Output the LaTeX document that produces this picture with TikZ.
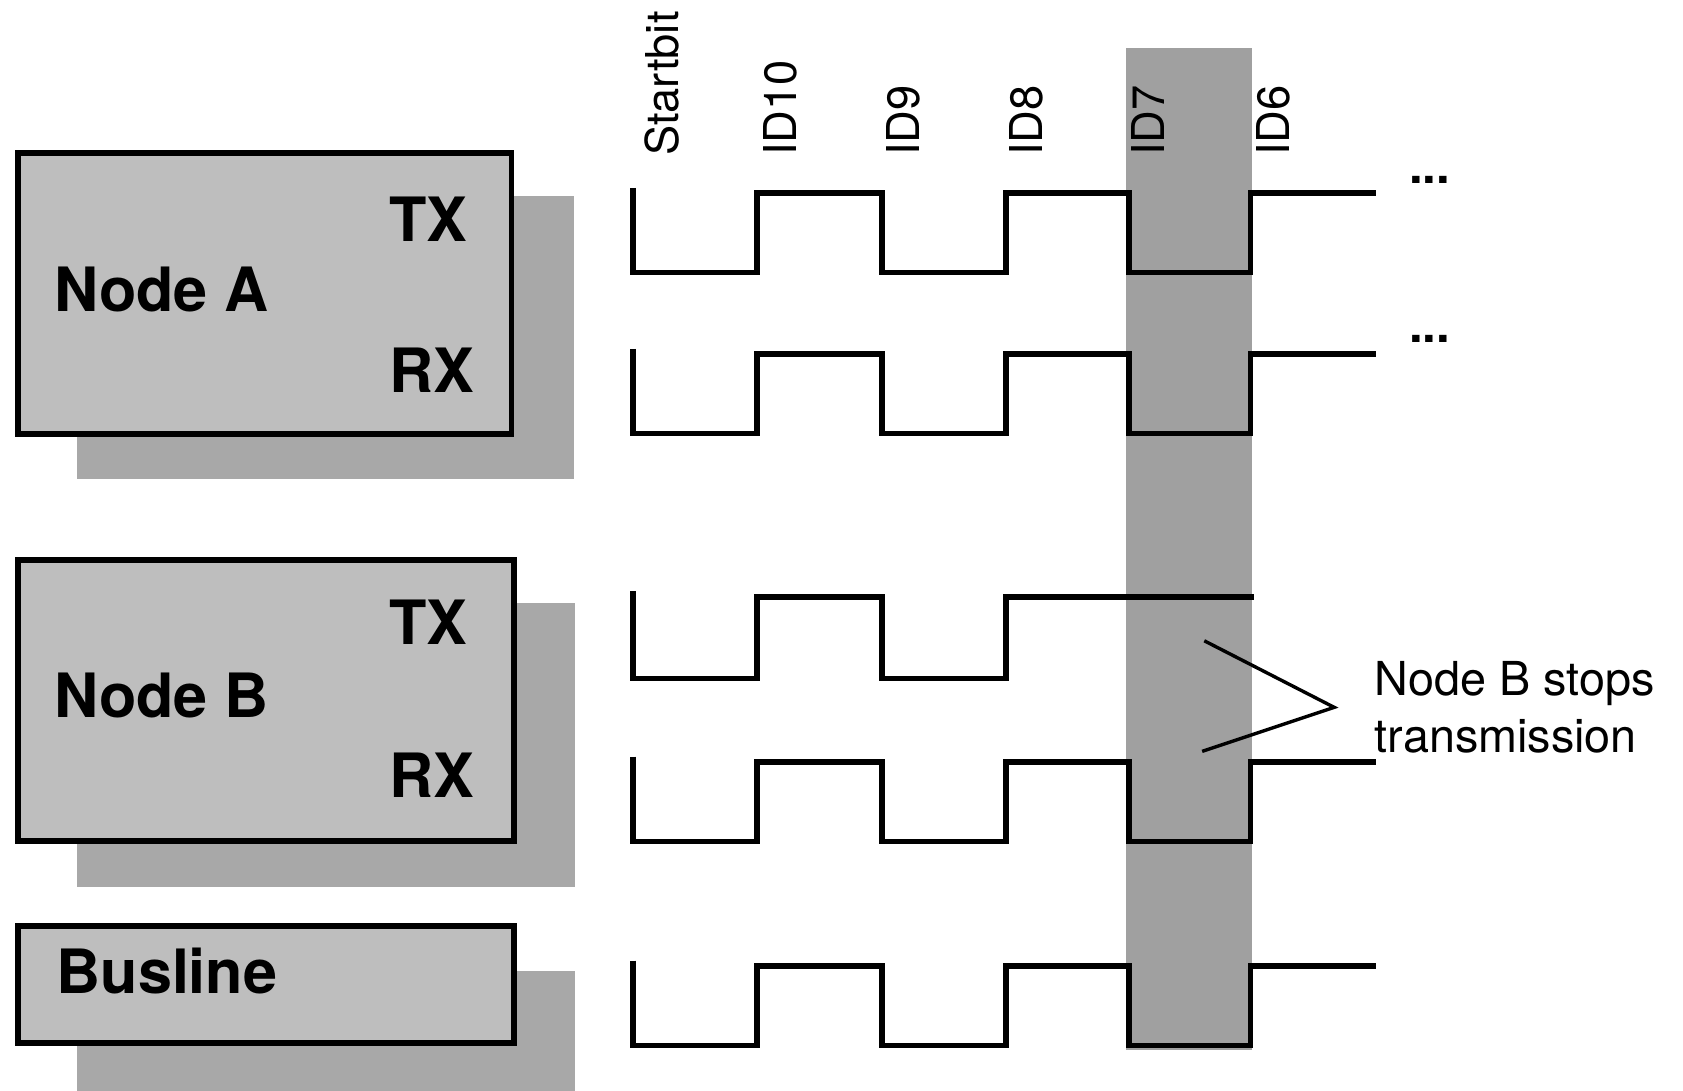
\documentclass[tikz,border=0pt]{standalone}
\usepackage{fontspec}
\setmainfont{TeX Gyre Heros}
\usepackage{tikz}
\usetikzlibrary{positioning,calc}
\definecolor{BoxGray}{HTML}{BEBEBE}
\definecolor{ShadowGray}{HTML}{A8A8A8}
\definecolor{BandGray}{HTML}{A0A0A0}

\begin{document}
\begin{tikzpicture}[x=0.1mm, y=-0.1mm,
    unitbox/.style={draw=black, line width=1.5pt, fill=BoxGray, inner sep=0pt, anchor=north west},
    shadowbox/.style={fill=ShadowGray},
    boxlabel/.style={font=\fontsize{16.2}{19}\selectfont\bfseries, inner sep=0pt, anchor=west},
    bitlabel/.style={font=\fontsize{12}{15}\selectfont, rotate=90, anchor=west, inner sep=0pt},
    wave/.style={line width=1.5pt, line join=miter},
    pointer/.style={line width=0.9pt},
    note/.style={font=\fontsize{12.4}{15}\selectfont, align=left, inner sep=0pt}]
  \useasboundingbox (0,0) rectangle (1568,1016);

  % shadows behind the boxes
  \fill[shadowbox] (72,183) rectangle (535,446);
  \fill[shadowbox] (72,562) rectangle (536,826);
  \fill[shadowbox] (72,905) rectangle (536,1016);

  % the three units
  \node[unitbox, minimum width=46.0mm, minimum height=26.2mm] (boxA) at (14,140) {};
  \node[unitbox, minimum width=46.2mm, minimum height=26.2mm] (boxB) at (14,519) {};
  \node[unitbox, minimum width=46.2mm, minimum height=10.9mm] (boxBus) at (14,860) {};

  \node[boxlabel] (nameA) at (50,270) {Node A};
  \node[boxlabel] (txA) at (362,204) {TX};
  \node[boxlabel] (rxA) at (362,345) {RX};
  \node[boxlabel] (nameB) at (50,648) {Node B};
  \node[boxlabel] (txB) at (362,580) {TX};
  \node[boxlabel] (rxB) at (362,722) {RX};
  \node[boxlabel] (nameBus) at (52,905) {Busline};

  % ID7 slot
  \fill[BandGray] (1049,45) rectangle (1166,978);

  % bit names
  \foreach \lbl/\x in {Startbit/617, ID10/727, ID9/842, ID8/956, ID7/1070, ID6/1186}
    \node[bitlabel] (bit-\lbl) at (\x,146) {\lbl};

  % signals
  \foreach \hi in {180,330,710,900}
    \draw[wave] (590,\hi-5) -- (590,\hi+74) -- (705,\hi+74) -- (705,\hi) -- (822,\hi)
      -- (822,\hi+74) -- (937,\hi+74) -- (937,\hi) -- (1052,\hi) -- (1052,\hi+74)
      -- (1165,\hi+74) -- (1165,\hi) -- (1282,\hi);
  \draw[wave] (590,551) -- (590,632) -- (705,632) -- (705,556) -- (822,556)
    -- (822,632) -- (937,632) -- (937,556) -- (1168,556);

  \node[font=\fontsize{13}{14}\selectfont\bfseries, inner sep=0pt] (moreA) at (1332,168) {...};
  \node[font=\fontsize{13}{14}\selectfont\bfseries, inner sep=0pt] (moreRx) at (1332,316) {...};

  % annotation
  \node[note, anchor=west] (stops) at (1280,659) {Node B stops\\transmission};
  \coordinate (apex) at ([xshift=-3.7mm]stops.west);
  \coordinate (tipT) at (1122,597);
  \coordinate (tipB) at (1120,700);
  \draw[pointer] (tipT) -- (apex) -- (tipB);
\end{tikzpicture}
\end{document}
